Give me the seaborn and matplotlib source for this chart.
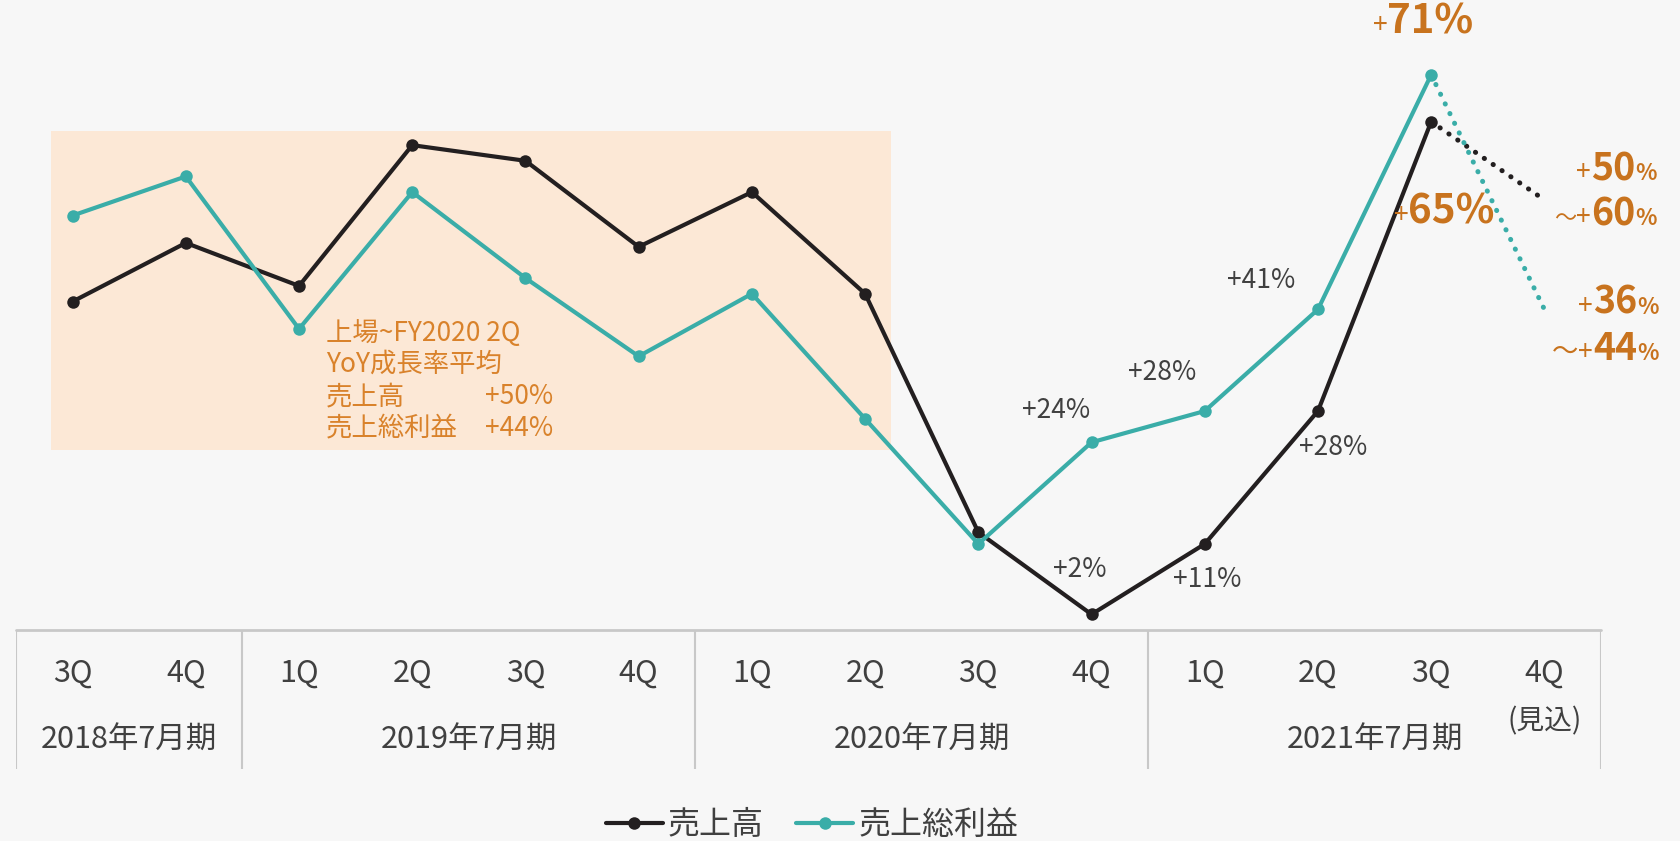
import seaborn as sns
import matplotlib.pyplot as plt
import pandas as pd
from matplotlib.offsetbox import TextArea, HPacker, AnnotationBbox

sns.set_theme(style='white')
plt.rcParams['font.family'] = ['Noto Sans CJK JP', 'DejaVu Sans']

# data (YoY growth %)
quarters = ['3Q', '4Q', '1Q', '2Q', '3Q', '4Q', '1Q', '2Q', '3Q', '4Q', '1Q', '2Q', '3Q', '4Q']
years = ['2018年7月期', '2019年7月期', '2020年7月期', '2021年7月期']
year_sizes = [2, 4, 4, 4]
sales = [42, 49.5, 44, 62, 60, 49, 56, 43, 12.5, 2, 11, 28, 65]
gross = [53, 58, 38.5, 56, 45, 35, 43, 27, 11, 24, 28, 41, 71]
sales_fc = 55
gross_fc = 41
sales_labels = {9: '+2%', 10: '+11%', 11: '+28%'}
gross_labels = {9: '+24%', 10: '+28%', 11: '+41%'}

black = '#231F20'
teal = '#3AADA8'
orange = '#C8731E'
grey = '#404040'
bg = '#F7F7F7'

df = pd.DataFrame({
    'q': list(range(len(sales))) * 2,
    'value': sales + gross,
    'series': ['売上高'] * len(sales) + ['売上総利益'] * len(gross),
})
last = len(sales) - 1
df_fc = pd.DataFrame({
    'q': [last, last + 1, last, last + 1],
    'value': [sales[-1], sales_fc, gross[-1], gross_fc],
    'series': ['売上高', '売上高', '売上総利益', '売上総利益'],
})

W, H = 1680, 841
fig = plt.figure(figsize=(W / 100, H / 100), dpi=100, facecolor=bg)
ax = fig.add_axes([16 / W, (H - 630) / H, 1585 / W, 630 / H])
ax.set_facecolor(bg)
ax.set_xlim(-0.5, 13.5)
ax.set_ylim(0, 630 / 7.82)
ax.axis('off')

# shaded period box
ax.add_patch(plt.Rectangle((-0.19, 23), 7.42, 40.8, color='#FCE8D6', lw=0, zorder=0))

palette = {'売上高': black, '売上総利益': teal}
sns.lineplot(data=df_fc, x='q', y='value', hue='series', palette=palette, ax=ax,
             linewidth=3.6, legend=False, zorder=2)
for l in ax.lines:
    l.set_linestyle((0, (0.05, 2.1)))
    l.set_dash_capstyle('round')
sns.lineplot(data=df, x='q', y='value', hue='series', palette=palette, ax=ax,
             marker='o', markersize=9, markeredgewidth=0, linewidth=3,
             legend=True, zorder=3)
for l in ax.lines:
    l.set_clip_on(False)

handles, labels = ax.get_legend_handles_labels()
ax.legend(handles, labels, loc='center', bbox_to_anchor=(812 / W, 1 - 825 / H),
          bbox_transform=fig.transFigure, ncol=2, frameon=False, fontsize=23,
          labelcolor=grey, handlelength=1.8, handletextpad=0.15, columnspacing=1.0)

# growth labels
for i, t in sales_labels.items():
    off = {9: (-12, 45), 10: (2, -36), 11: (15, -36)}[i]
    ax.annotate(t, xy=(i, sales[i]), xytext=off, textcoords='offset pixels',
                ha='center', va='center', fontsize=19, color=grey)
for i, t in gross_labels.items():
    off = {9: (-35, 32), 10: (-43, 39), 11: (-57, 29)}[i]
    ax.annotate(t, xy=(i, gross[i]), xytext=off, textcoords='offset pixels',
                ha='center', va='center', fontsize=19, color=grey)


def rich(parts):
    kids = [TextArea(s, textprops=dict(fontsize=fs, color=orange, fontweight=fw))
            for s, fs, fw in parts]
    return HPacker(children=kids, align='baseline', pad=0, sep=0)


def put(box, xy, off, align):
    ab = AnnotationBbox(box, xy, xybox=off, xycoords='data', boxcoords='offset pixels',
                        box_alignment=align, frameon=False, annotation_clip=False)
    ax.add_artist(ab)


put(rich([('+', 19, 'normal'), ('71%', 29, 'bold')]), (last, gross[-1]), (-8, 53), (0.5, 0.5))
put(rich([('+', 19, 'normal'), ('65%', 29, 'bold')]), (last, sales[-1]), (13, -90), (0.5, 0.5))
put(rich([('+', 19, 'normal'), ('50', 27, 'bold'), ('%', 16, 'bold')]), (last + 1, sales_fc), (112, 31), (1, 0.5))
put(rich([('～', 16, 'normal'), ('+', 19, 'normal'), ('60', 27, 'bold'), ('%', 16, 'bold')]), (last + 1, sales_fc), (112, -14), (1, 0.5))
put(rich([('+', 19, 'normal'), ('36', 27, 'bold'), ('%', 16, 'bold')]), (last + 1, gross_fc), (114, 7), (1, 0.5))
put(rich([('～', 19, 'normal'), ('+', 19, 'normal'), ('44', 27, 'bold'), ('%', 16, 'bold')]), (last + 1, gross_fc), (114, -39), (1, 0.5))

# box text
box_c = '#D9822B'
for y, t in zip([333, 364, 397, 428], ['上場~FY2020 2Q', 'YoY成長率平均', '売上高', '売上総利益']):
    fig.text(326 / W, 1 - y / H, t, fontsize=19, color=box_c, va='center', ha='left')
for y, t in zip([397, 428], ['+50%', '+44%']):
    fig.text(553 / W, 1 - y / H, t, fontsize=19, color=box_c, va='center', ha='right')

# category table
tb = fig.add_axes([16 / W, (H - 769) / H, 1585 / W, 139 / H])
tb.set_xlim(-0.5, 13.5)
tb.set_ylim(0, 1)
tb.axis('off')
line_c = '#C8C8C8'
tb.axhline(1, color=line_c, lw=2, clip_on=False)
edge = -0.5
tb.axvline(edge, color=line_c, lw=1.5)
for n, yname in zip(year_sizes, years):
    tb.text(edge + n / 2, 0.21, yname, ha='center', va='center', fontsize=22, color=grey)
    edge += n
    tb.axvline(edge, color=line_c, lw=1.5)
for i, q in enumerate(quarters):
    tb.text(i, 0.69, q, ha='center', va='center', fontsize=22, color=grey)
tb.text(len(quarters) - 1, 0.34, '(見込)', ha='center', va='center', fontsize=20, color=grey)

fig.savefig('out.png', dpi=100, facecolor=bg)
